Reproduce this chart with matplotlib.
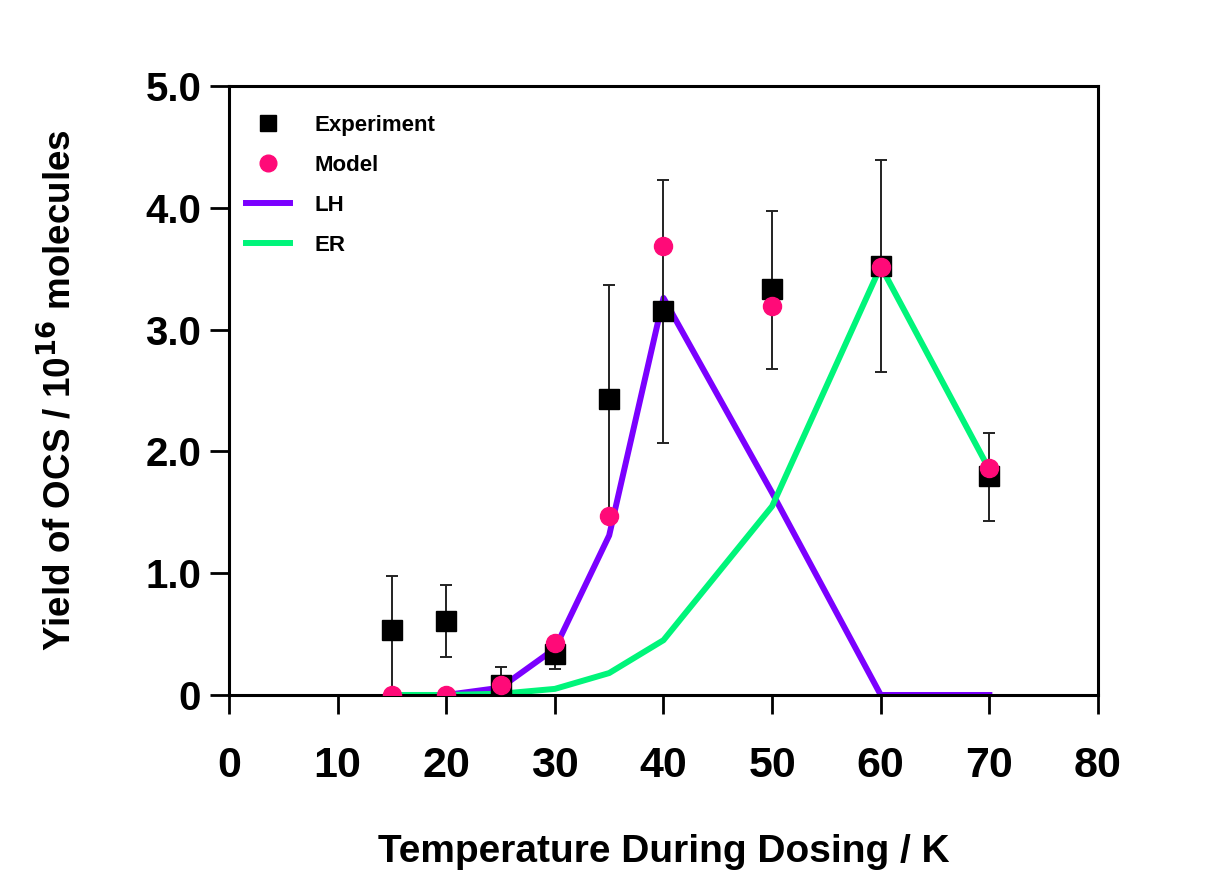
import matplotlib
matplotlib.use("Agg")
import matplotlib.pyplot as plt

plt.rcParams['font.family'] = ['Liberation Sans', 'DejaVu Sans']

temps = [15, 20, 25, 30, 35, 40, 50, 60, 70]

# measured OCS yield with uncertainties (lower, upper)
exp_yield = [0.53, 0.61, 0.08, 0.34, 2.43, 3.15, 3.33, 3.52, 1.80]
exp_err_lo = [0.53, 0.30, 0.08, 0.13, 0.94, 1.08, 0.65, 0.87, 0.37]
exp_err_hi = [0.45, 0.29, 0.15, 0.10, 0.94, 1.08, 0.64, 0.87, 0.35]

model_yield = [0.0, 0.0, 0.08, 0.43, 1.47, 3.69, 3.19, 3.51, 1.86]
lh_yield = [0.0, 0.0, 0.06, 0.38, 1.31, 3.26, 1.66, 0.0, 0.0]
er_yield = [0.0, 0.0, 0.01, 0.05, 0.18, 0.45, 1.55, 3.52, 1.85]

xticks = [0, 10, 20, 30, 40, 50, 60, 70, 80]
yticks = [0, 1, 2, 3, 4, 5]
ytick_labels = ['0', '1.0', '2.0', '3.0', '4.0', '5.0']

fig = plt.figure(figsize=(12.07, 8.86), dpi=100)
ax = fig.add_axes([0.1897, 0.2156, 0.72, 0.6873])

lh, = ax.plot(temps, lh_yield, color='#7b00ff', lw=4.3, label='LH', zorder=2)
er, = ax.plot(temps, er_yield, color='#00f57a', lw=4.3, label='ER', zorder=2)
ax.errorbar(temps, exp_yield, yerr=[exp_err_lo, exp_err_hi], fmt='none',
            ecolor='#222222', elinewidth=1.4, capsize=4, capthick=1.4, zorder=3)
sq, = ax.plot(temps, exp_yield, 's', color='black', ms=15, ls='none',
              label='Experiment', zorder=3)
mo, = ax.plot(temps, model_yield, 'o', color='#ff0a78', ms=13, ls='none',
              label='Model', zorder=4)

ax.set_xlim(0, 80)
ax.set_ylim(0, 5)
ax.set_xticks(xticks)
ax.set_yticks(yticks)
ax.set_yticklabels(ytick_labels)

for side in ['left', 'right', 'top', 'bottom']:
    ax.spines[side].set_linewidth(2.2)
ax.tick_params(axis='both', direction='out', length=14, width=2)
ax.tick_params(axis='x', pad=23, labelsize=31)
ax.tick_params(axis='y', pad=6, labelsize=29)
for lbl in ax.get_xticklabels() + ax.get_yticklabels():
    lbl.set_fontweight('bold')

ax.set_xlabel('Temperature During Dosing / K', fontsize=28, fontweight='bold',
              labelpad=34)
ax.set_ylabel('Yield of OCS / 10$^{\\mathbf{16}}$ molecules', fontsize=26.5,
              fontweight='bold', labelpad=48)

leg = ax.legend(handles=[sq, mo, lh, er], loc='upper left', frameon=False,
                bbox_to_anchor=(-0.014, 1.0),
                prop={'weight': 'bold', 'size': 16}, handlelength=2.0,
                labelspacing=0.85, borderaxespad=0.9, handletextpad=1.1,
                numpoints=1)
leg.legend_handles[0].set_markersize(11)
leg.legend_handles[1].set_markersize(12)

fig.savefig('out.png', dpi=100, facecolor='white')
